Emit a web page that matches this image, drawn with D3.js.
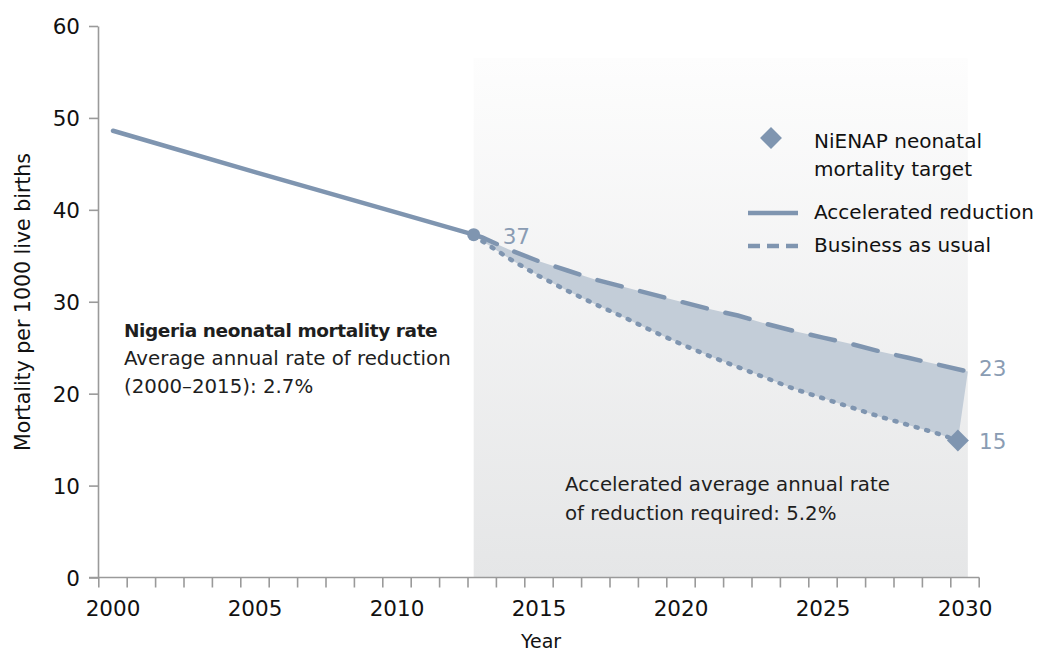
<!DOCTYPE html>
<meta charset="utf-8">
<script src="https://d3js.org/d3.v7.min.js"></script>
<style>
  body { margin: 0; background: #fff; }
  text { font-family: "DejaVu Sans", "Liberation Sans", sans-serif; }
  .tick-label { font-size: 21.5px; fill: #111; }
  .note { font-size: 19.8px; fill: #1e1e1e; }
  .val { font-size: 21.5px; fill: #8a9cb3; }
</style>
<div id="chart"></div>
<script>
// observed rate 2000 -> projection start
var histYears = [2000, 2005, 2010, 2012.7];
var histValues = [48.6, 44.1, 39.7, 37.3];

// business as usual projection (dashed)
var bauYears = [2012.7, 2013, 2014, 2015, 2016, 2017, 2018, 2019, 2020, 2021, 2022, 2023, 2024, 2025, 2026, 2027, 2028, 2029, 2030.1];
var bauValues = [37.3, 37.0, 35.6, 34.4, 33.4, 32.4, 31.6, 30.8, 30.0, 29.2, 28.5, 27.6, 26.8, 26.1, 25.4, 24.6, 23.9, 23.2, 22.4];

// accelerated reduction projection (dotted)
var accYears = [2012.7, 2013, 2014, 2015, 2016, 2017, 2018, 2019, 2020, 2021, 2022, 2023, 2024, 2025, 2026, 2027, 2028, 2029, 2029.75];
var accValues = [37.3, 36.6, 34.6, 32.8, 31.2, 29.7, 28.3, 26.8, 25.4, 24.1, 22.9, 21.7, 20.5, 19.5, 18.5, 17.5, 16.6, 15.7, 14.9];

var targetYear = 2029.75, targetValue = 14.9;
var shadeRange = [2012.7, 2030.1];

var yTicks = [0, 10, 20, 30, 40, 50, 60];
var xLabels = [2000, 2005, 2010, 2015, 2020, 2025, 2030];
var xBoundaries = d3.range(1999.5, 2031, 1);

var W = 1039, H = 655;
var svg = d3.select("#chart").append("svg").attr("width", W).attr("height", H);

var x = d3.scaleLinear().domain([2000, 2030]).range([113, 965]);
var y = d3.scaleLinear().domain([0, 60]).range([577.5, 26]);

var lineColor = "#7f95b0";
var axisColor = "#9a9a9a";

// gradient background for the projection period
var defs = svg.append("defs");
var grad = defs.append("linearGradient").attr("id", "shade").attr("x1", 0).attr("x2", 0).attr("y1", 0).attr("y2", 1);
grad.append("stop").attr("offset", "0%").attr("stop-color", "#fdfdfd");
grad.append("stop").attr("offset", "100%").attr("stop-color", "#e5e6e7");

svg.append("rect")
  .attr("x", x(shadeRange[0]))
  .attr("y", 58)
  .attr("width", x(shadeRange[1]) - x(shadeRange[0]))
  .attr("height", y(0) - 58)
  .attr("fill", "url(#shade)");

// area between the two projections
var bau = bauYears.map(function(d, i) { return [d, bauValues[i]]; });
var acc = accYears.map(function(d, i) { return [d, accValues[i]]; });
var poly = bau.concat(acc.slice().reverse());
svg.append("path")
  .attr("d", d3.line().x(function(d) { return x(d[0]); }).y(function(d) { return y(d[1]); })(poly) + "Z")
  .attr("fill", "#c3cdd8");

// axes
var yAxis = svg.append("g").attr("transform", "translate(98,0)")
  .call(d3.axisLeft(y).tickValues(yTicks).tickSize(9).tickSizeOuter(0).tickPadding(9));
yAxis.select(".domain").attr("stroke", axisColor).attr("stroke-width", 1.6);
yAxis.selectAll(".tick line").attr("stroke", axisColor).attr("stroke-width", 1.6);
yAxis.selectAll(".tick text").attr("class", "tick-label").attr("dy", "0.36em");

svg.append("line")
  .attr("x1", 89).attr("x2", x(2030.5))
  .attr("y1", y(0)).attr("y2", y(0))
  .attr("stroke", axisColor).attr("stroke-width", 1.6);

svg.append("g").selectAll("line").data(xBoundaries).join("line")
  .attr("x1", function(d) { return x(d); }).attr("x2", function(d) { return x(d); })
  .attr("y1", y(0)).attr("y2", y(0) + 10)
  .attr("stroke", axisColor).attr("stroke-width", 1.6);

svg.append("g").selectAll("text").data(xLabels).join("text")
  .attr("class", "tick-label")
  .attr("x", function(d) { return x(d); })
  .attr("y", 616)
  .attr("text-anchor", "middle")
  .text(function(d) { return d; });

svg.append("text").attr("class", "tick-label").attr("x", 541).attr("y", 648)
  .attr("text-anchor", "middle").style("font-size", "19px").text("Year");

svg.append("text").attr("class", "tick-label")
  .attr("transform", "translate(30,302) rotate(-90)")
  .attr("text-anchor", "middle").style("font-size", "20.5px")
  .text("Mortality per 1000 live births");

// lines
var line = d3.line().x(function(d) { return x(d[0]); }).y(function(d) { return y(d[1]); });
var hist = histYears.map(function(d, i) { return [d, histValues[i]]; });

svg.append("path").attr("d", line(bau)).attr("fill", "none")
  .attr("stroke", lineColor).attr("stroke-width", 4.5)
  .attr("stroke-dasharray", "25 19").attr("stroke-linecap", "round");

svg.append("path").attr("d", line(acc)).attr("fill", "none")
  .attr("stroke", lineColor).attr("stroke-width", 4.5)
  .attr("stroke-dasharray", "2 9").attr("stroke-linecap", "round");

svg.append("path").attr("d", line(hist)).attr("fill", "none")
  .attr("stroke", lineColor).attr("stroke-width", 4.5).attr("stroke-linecap", "round");

svg.append("circle").attr("cx", x(2012.7)).attr("cy", y(37.3)).attr("r", 6.5).attr("fill", lineColor);

svg.append("path")
  .attr("d", d3.symbol().type(d3.symbolSquare).size(240)())
  .attr("transform", "translate(" + x(targetYear) + "," + y(targetValue) + ") rotate(45)")
  .attr("fill", lineColor);

// value labels
svg.append("text").attr("class", "val").attr("x", x(2012.7) + 29).attr("y", 244).text("37");
svg.append("text").attr("class", "val").attr("x", 979).attr("y", 376).text("23");
svg.append("text").attr("class", "val").attr("x", 979).attr("y", 449).text("15");

// annotations
var note1 = svg.append("text").attr("class", "note").attr("x", 124).attr("y", 337);
note1.append("tspan").attr("font-weight", "bold").style("font-size", "18.5px")
  .style("letter-spacing", "-0.4px").text("Nigeria neonatal mortality rate");
note1.append("tspan").attr("x", 124).attr("dy", 28).text("Average annual rate of reduction");
note1.append("tspan").attr("x", 124).attr("dy", 28).text("(2000–2015): 2.7%");

var note2 = svg.append("text").attr("class", "note").attr("x", 565).attr("y", 491);
note2.append("tspan").text("Accelerated average annual rate");
note2.append("tspan").attr("x", 565).attr("dy", 29).text("of reduction required: 5.2%");

// legend
var lg = svg.append("g");
lg.append("path")
  .attr("d", d3.symbol().type(d3.symbolSquare).size(240)())
  .attr("transform", "translate(771,138) rotate(45)")
  .attr("fill", lineColor);
lg.append("line").attr("x1", 748).attr("x2", 798).attr("y1", 213).attr("y2", 213)
  .attr("stroke", lineColor).attr("stroke-width", 4.5);
lg.append("line").attr("x1", 748).attr("x2", 798).attr("y1", 246).attr("y2", 246)
  .attr("stroke", lineColor).attr("stroke-width", 4.5).attr("stroke-dasharray", "12 7");
var lt = lg.append("text").attr("class", "note").style("font-size", "20px").style("fill", "#111");
lt.append("tspan").attr("x", 814).attr("y", 148).text("NiENAP neonatal");
lt.append("tspan").attr("x", 814).attr("y", 176).text("mortality target");
lt.append("tspan").attr("x", 814).attr("y", 219).text("Accelerated reduction");
lt.append("tspan").attr("x", 814).attr("y", 252).text("Business as usual");
</script>
